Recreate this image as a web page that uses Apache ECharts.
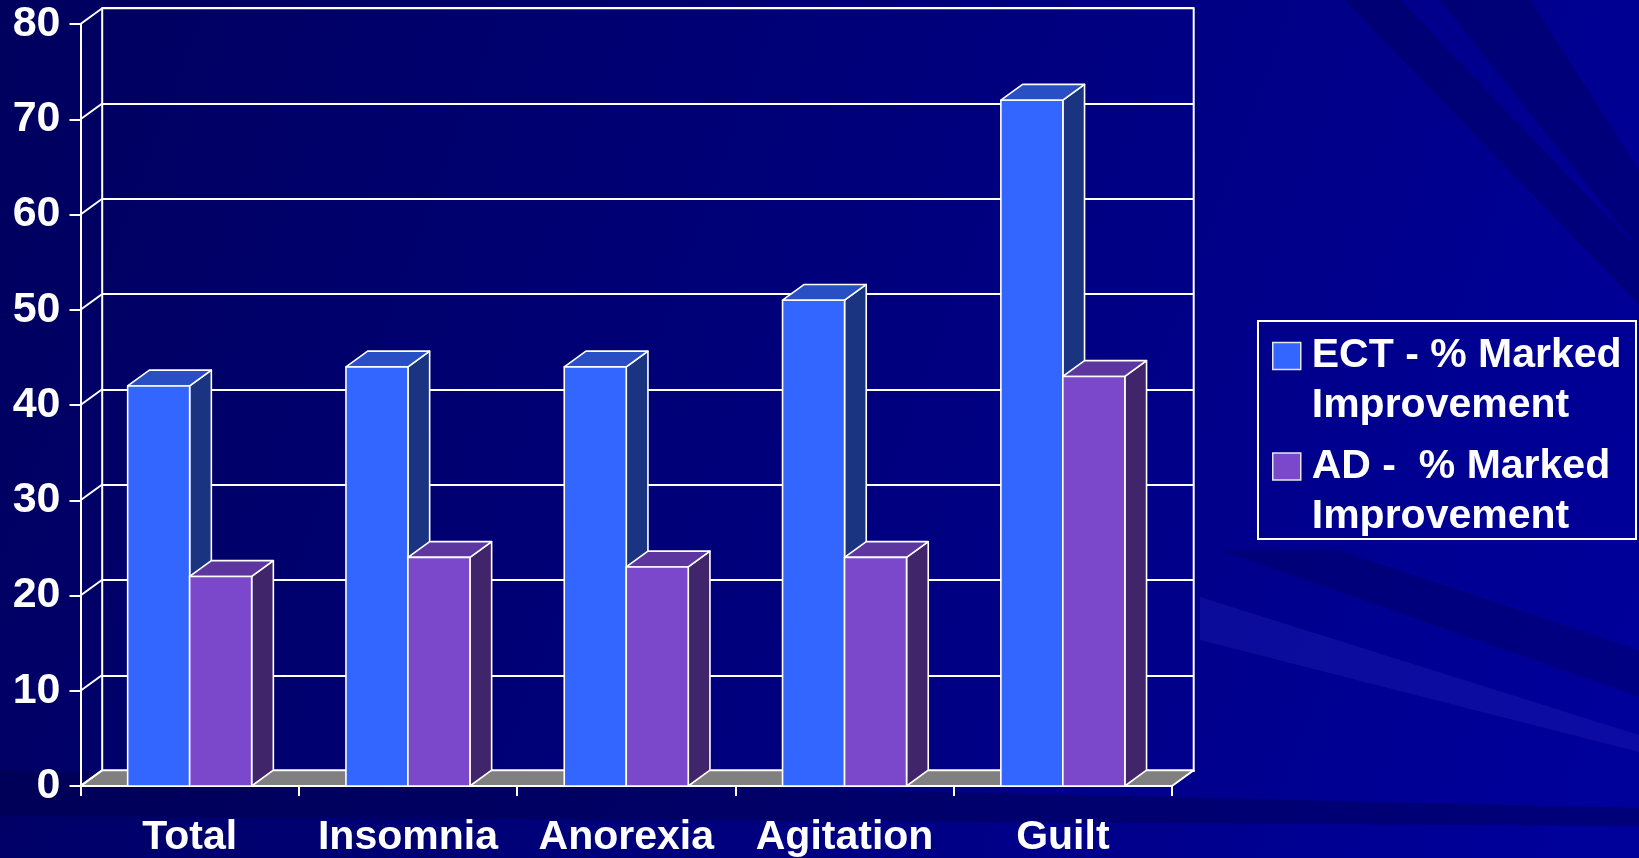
<!DOCTYPE html>
<html>
<head>
<meta charset="utf-8">
<title>ECT vs AD – % Marked Improvement</title>
<script src="https://cdn.jsdelivr.net/npm/echarts@6/dist/echarts.min.js"></script>
<style>
  html, body { margin: 0; padding: 0; background: #000070; }
  #chart { width: 1639px; height: 858px; }
</style>
</head>
<body>
<div id="chart"></div>
<script>
// ---- data ----
const categories = ['Total', 'Insomnia', 'Anorexia', 'Agitation', 'Guilt'];
const ectValues = [42, 44, 44, 51, 72];
const adValues = [22, 24, 23, 24, 43];
const yTicks = [0, 10, 20, 30, 40, 50, 60, 70, 80];
const seriesNames = ['ECT - % Marked Improvement', 'AD -  % Marked Improvement'];
const legendLines = {
  'ECT - % Marked Improvement': ['ECT - % Marked', 'Improvement'],
  'AD -  % Marked Improvement': ['AD -  % Marked', 'Improvement']
};

// ---- 3D look ----
const DX = 21.7;     // depth offset of the back wall, x
const DY = -15.8;    // depth offset of the back wall, y
const BAR_RATIO = 0.284;
const FONT = "'Liberation Sans', Arial, Helvetica, sans-serif";
const EDGE = { stroke: '#ffffff', lineWidth: 1.6, lineJoin: 'round' };

const ectFaces = { front: '#3366ff', top: '#284fc4', side: '#1b3482' };
const adFaces  = { front: '#7b48cc', top: '#5d379f', side: '#40256a' };

const G = { left: 80.5, right: 467, top: 24, bottom: 71.3 };

function barRenderer(side, faces) {
  return function (params, api) {
    const idx = api.value(0);
    const val = api.value(1);
    const base = api.coord([idx, 0]);
    const tp = api.coord([idx, val]);
    const bw = api.size([1, 0])[0] * BAR_RATIO;
    const x0 = side < 0 ? base[0] - bw : base[0];
    const x1 = x0 + bw;
    const yT = tp[1], yB = base[1];
    return {
      type: 'group',
      children: [
        { type: 'polygon',
          shape: { points: [[x1, yT], [x1 + DX, yT + DY], [x1 + DX, yB + DY], [x1, yB]] },
          style: Object.assign({ fill: faces.side }, EDGE) },
        { type: 'polygon',
          shape: { points: [[x0, yT], [x1, yT], [x1 + DX, yT + DY], [x0 + DX, yT + DY]] },
          style: Object.assign({ fill: faces.top }, EDGE) },
        { type: 'rect',
          shape: { x: x0, y: yT, width: bw, height: yB - yT },
          style: Object.assign({ fill: faces.front }, EDGE) }
      ]
    };
  };
}

const chart = echarts.init(document.getElementById('chart'), null, { renderer: 'canvas' });

const option = {
  animation: false,
  backgroundColor: {
    type: 'linear', x: 0, y: 0, x2: 1, y2: 0.7,
    colorStops: [
      { offset: 0, color: '#00005e' },
      { offset: 0.45, color: '#000078' },
      { offset: 1, color: '#00009a' }
    ]
  },
  graphic: [
    // background streaks
    { type: 'polygon', silent: true, z: -10,
      shape: { points: [[1345, 0], [1400, 0], [1639, 250], [1639, 305]] },
      style: { fill: 'rgba(0,0,50,0.25)' } },
    { type: 'polygon', silent: true, z: -10,
      shape: { points: [[1440, 0], [1530, 0], [1639, 170], [1639, 250]] },
      style: { fill: 'rgba(0,0,50,0.25)' } },
    { type: 'polygon', silent: true, z: -10,
      shape: { points: [[1220, 550], [1337, 550], [1639, 650], [1639, 697]] },
      style: { fill: 'rgba(0,0,60,0.25)' } },
    { type: 'polygon', silent: true, z: -10,
      shape: { points: [[1200, 597], [1639, 735], [1639, 752], [1200, 640]] },
      style: { fill: 'rgba(40,40,190,0.3)' } },
    { type: 'polygon', silent: true, z: -10,
      shape: { points: [[0, 770], [1639, 808], [1639, 826], [0, 816]] },
      style: { fill: 'rgba(0,0,60,0.35)' } },
    // legend frame
    { type: 'rect', silent: true, z: 5,
      shape: { x: 1258, y: 321, width: 378, height: 218 },
      style: { fill: 'transparent', stroke: '#ffffff', lineWidth: 2 } }
  ],
  legend: {
    orient: 'vertical',
    left: 1272,
    top: 281,
    padding: 0,
    itemGap: -39.5,
    itemWidth: 28,
    itemHeight: 27,
    icon: 'rect',
    selectedMode: false,
    data: seriesNames,
    itemStyle: { borderColor: '#e6e6e6', borderWidth: 1.5 },
    formatter: name => '\n' + legendLines[name].join('\n'),
    textStyle: {
      color: '#ffffff', fontFamily: FONT, fontWeight: 'bold',
      fontSize: 41, lineHeight: 50, padding: [0, 0, 0, 6]
    }
  },
  grid: [
    Object.assign({ containLabel: false }, G),
    { left: G.left + DX, right: G.right - DX, top: G.top + DY, bottom: G.bottom - DY,
      show: true, borderColor: '#ffffff', borderWidth: 2, backgroundColor: 'transparent' }
  ],
  xAxis: [
    { type: 'category', gridIndex: 0, data: categories, boundaryGap: true,
      axisLine: { show: true, lineStyle: { color: '#ffffff', width: 2 } },
      axisTick: { show: true, length: 10, alignWithLabel: false, lineStyle: { color: '#ffffff', width: 2 } },
      axisLabel: { interval: 0, hideOverlap: false, color: '#ffffff', fontFamily: FONT,
                   fontWeight: 'bold', fontSize: 41, margin: 31 },
      splitLine: { show: false } },
    { type: 'category', gridIndex: 1, data: categories, show: false }
  ],
  yAxis: [
    { type: 'value', gridIndex: 0,
      min: yTicks[0], max: yTicks[yTicks.length - 1], interval: yTicks[1] - yTicks[0],
      axisLine: { show: true, lineStyle: { color: '#ffffff', width: 2 } },
      axisTick: { show: true, length: 11, lineStyle: { color: '#ffffff', width: 2 } },
      axisLabel: { color: '#ffffff', fontFamily: FONT, fontWeight: 'bold', fontSize: 43, margin: 20 },
      splitLine: { show: false } },
    { type: 'value', gridIndex: 1,
      min: yTicks[0], max: yTicks[yTicks.length - 1], interval: yTicks[1] - yTicks[0],
      axisLine: { show: false }, axisTick: { show: false }, axisLabel: { show: false },
      splitLine: { show: true, lineStyle: { color: '#ffffff', width: 2 } } }
  ],
  series: [
    // floor
    { type: 'custom', name: 'floor', xAxisIndex: 0, yAxisIndex: 0, z: 2, silent: true,
      data: [[0, yTicks[0]]],
      renderItem: (params, api) => {
        const cs = params.coordSys;
        const y = api.coord([0, api.value(1)])[1];
        const xa = cs.x, xb = cs.x + cs.width;
        return { type: 'polygon',
          shape: { points: [[xa, y], [xb, y], [xb + DX, y + DY], [xa + DX, y + DY]] },
          style: { fill: '#808080', stroke: '#ffffff', lineWidth: 2, lineJoin: 'round' } };
      } },
    // side wall diagonals
    { type: 'custom', name: 'wall', xAxisIndex: 0, yAxisIndex: 0, z: 2, silent: true,
      data: yTicks.map(v => [0, v]),
      renderItem: (params, api) => {
        const cs = params.coordSys;
        const y = api.coord([0, api.value(1)])[1];
        return { type: 'line',
          shape: { x1: cs.x, y1: y, x2: cs.x + DX, y2: y + DY },
          style: { stroke: '#ffffff', lineWidth: 2 } };
      } },
    { type: 'custom', name: seriesNames[0], xAxisIndex: 0, yAxisIndex: 0, z: 3,
      itemStyle: { color: ectFaces.front },
      encode: { x: 0, y: 1 },
      data: ectValues.map((v, i) => [i, v]),
      renderItem: barRenderer(-1, ectFaces) },
    { type: 'custom', name: seriesNames[1], xAxisIndex: 0, yAxisIndex: 0, z: 4,
      itemStyle: { color: adFaces.front },
      encode: { x: 0, y: 1 },
      data: adValues.map((v, i) => [i, v]),
      renderItem: barRenderer(1, adFaces) }
  ]
};

chart.setOption(option);
</script>
</body>
</html>
